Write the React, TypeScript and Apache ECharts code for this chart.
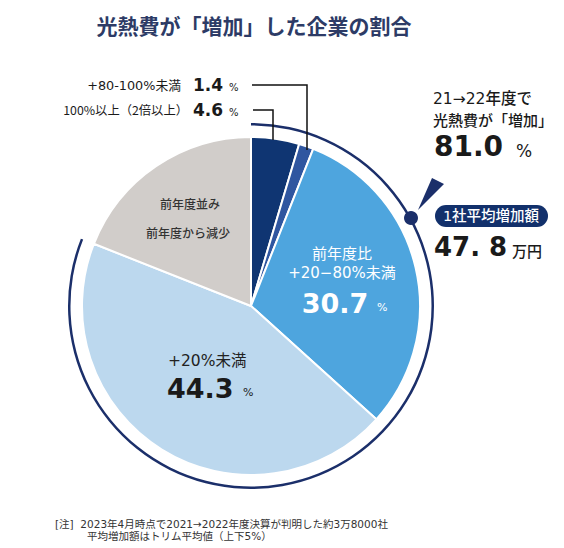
import React, { useEffect, useRef } from 'react';
import * as echarts from 'echarts';

// shares of companies by change in utility costs (2021 -> 2022), %
const categories = ['100%以上（2倍以上）', '+80-100%未満', '+20−80%未満', '+20%未満', '前年度並み・前年度から減少'];
const shares = [4.6, 1.4, 30.7, 44.3, 19.0];
const sliceColors = ['#0f3572', '#2f56a0', '#4ea5de', '#bcd8ee', '#d1cdca'];
const increasedShare = 81.0;
const avgIncrease = 47.8; // 万円

const FONT = '"DejaVu Sans", "Noto Sans CJK JP", sans-serif';
const JP = '"Noto Sans CJK JP", sans-serif';
const NUM = '"DejaVu Sans", sans-serif';
const NAVY = '#1b2f6a';

const txt = (
  text: string,
  x: number,
  y: number,
  size: number,
  opts: { color?: string; weight?: number | string; align?: string; family?: string } = {}
) => ({
  type: 'text',
  x,
  y,
  z: 100,
  silent: true,
  style: {
    text,
    fill: opts.color ?? '#1a1a1a',
    font: `${opts.weight ?? 400} ${size}px ${opts.family ?? FONT}`,
    lineHeight: size,
    align: opts.align ?? 'left',
    textAlign: opts.align ?? 'left',
    verticalAlign: 'middle',
    textVerticalAlign: 'middle',
  },
});

const fmt = (v: number) => v.toFixed(1);

const App: React.FC = () => {
  const chartRef = useRef<HTMLDivElement | null>(null);

  useEffect(() => {
    let chart: echarts.ECharts | null = null;
    if (chartRef.current) {
      chart = echarts.init(chartRef.current, undefined, { renderer: 'svg' });

      const [avgInt, avgDec] = fmt(avgIncrease).split('.');

      const option = {
        animation: false,
        backgroundColor: '#ffffff',
        series: [
          {
            type: 'pie',
            center: [251, 306],
            radius: [0, 169],
            startAngle: 90,
            clockwise: true,
            silent: true,
            label: { show: false },
            labelLine: { show: false },
            itemStyle: { borderColor: '#ffffff', borderWidth: 2 },
            data: shares.map((v, i) => ({
              name: categories[i],
              value: v,
              itemStyle: { color: sliceColors[i] },
            })),
          },
          {
            type: 'pie',
            center: [251, 306],
            radius: [180.5, 183],
            startAngle: 90,
            clockwise: true,
            silent: true,
            label: { show: false },
            labelLine: { show: false },
            data: [
              { name: '増加', value: increasedShare, itemStyle: { color: NAVY } },
              { name: 'その他', value: 100 - increasedShare, itemStyle: { color: 'rgba(0,0,0,0)' } },
            ],
          },
        ],
        graphic: [
          txt('光熱費が「増加」した企業の割合', 254, 25, 21, { color: '#2d3b66', weight: 700, align: 'center', family: JP }),

          // leader lines for the small slices
          {
            type: 'polyline',
            z: 100,
            silent: true,
            shape: { points: [[252, 85], [307, 85], [307, 150]] },
            style: { stroke: '#111', lineWidth: 1.5, fill: 'none' },
          },
          {
            type: 'polyline',
            z: 100,
            silent: true,
            shape: { points: [[253, 110], [273, 110], [273, 140]] },
            style: { stroke: '#111', lineWidth: 1.5, fill: 'none' },
          },
          txt(categories[1], 181, 85, 12.8, { align: 'right' }),
          txt(fmt(shares[1]), 193, 85, 17, { weight: 700, family: NUM }),
          txt('%', 229, 87, 10),
          txt(categories[0], 188, 110, 12.3, { align: 'right', family: JP }),
          txt(fmt(shares[0]), 193, 110, 17, { weight: 700, family: NUM }),
          txt('%', 229, 112, 10),

          // slice labels
          txt('前年度並み', 190, 203, 12, { color: '#333', weight: 500, align: 'center', family: JP }),
          txt('前年度から減少', 188, 232, 12, { color: '#333', weight: 500, align: 'center', family: JP }),
          txt('前年度比', 342, 254, 15, { color: '#ffffff', align: 'center' }),
          txt(categories[2], 342, 273, 15, { color: '#ffffff', align: 'center' }),
          txt(fmt(shares[2]), 335, 303, 27, { color: '#ffffff', weight: 700, align: 'center', family: NUM }),
          txt('%', 377, 307, 11, { color: '#ffffff' }),
          txt(categories[3], 168, 361, 15.5, { color: '#222' }),
          txt(fmt(shares[3]), 167, 388, 27, { weight: 700, family: NUM }),
          txt('%', 243, 392, 11),

          // callout on the right
          {
            type: 'polygon',
            z: 100,
            silent: true,
            shape: { points: [[418, 210], [432, 178], [444, 184]] },
            style: { fill: NAVY },
          },
          {
            type: 'circle',
            z: 100,
            silent: true,
            shape: { cx: 411, cy: 218, r: 7 },
            style: { fill: NAVY },
          },
          txt('21→22年度で', 433, 99, 15.5, { weight: 500 }),
          txt('光熱費が「増加」', 433, 119, 15, { weight: 500, family: JP }),
          txt(fmt(increasedShare), 434, 146, 28, { weight: 700, family: NUM }),
          txt('%', 516, 151, 17),
          {
            type: 'rect',
            z: 100,
            silent: true,
            shape: { x: 435, y: 205, width: 113, height: 22, r: 11 },
            style: { fill: '#12306b' },
          },
          txt('1社平均増加額', 491, 216, 14.5, { color: '#ffffff', weight: 500, align: 'center' }),
          txt(`${avgInt}. ${avgDec}`, 434, 247, 26, { weight: 700, family: NUM }),
          txt('万円', 512, 252, 15, { weight: 500 }),

          // note
          txt('[注]  2023年4月時点で2021→2022年度決算が判明した約3万8000社', 55, 524, 10.5, { color: '#333' }),
          txt('平均増加額はトリム平均値（上下5%）', 87, 536, 10.5, { color: '#333' }),
        ],
      };

      chart.setOption(option as any);
    }

    return () => {
      chart?.dispose();
    };
  }, []);

  return (
    <div
      ref={chartRef}
      style={{ position: 'absolute', left: 0, top: 0, width: 564, height: 548, background: '#fff' }}
    ></div>
  );
};

export default App;
